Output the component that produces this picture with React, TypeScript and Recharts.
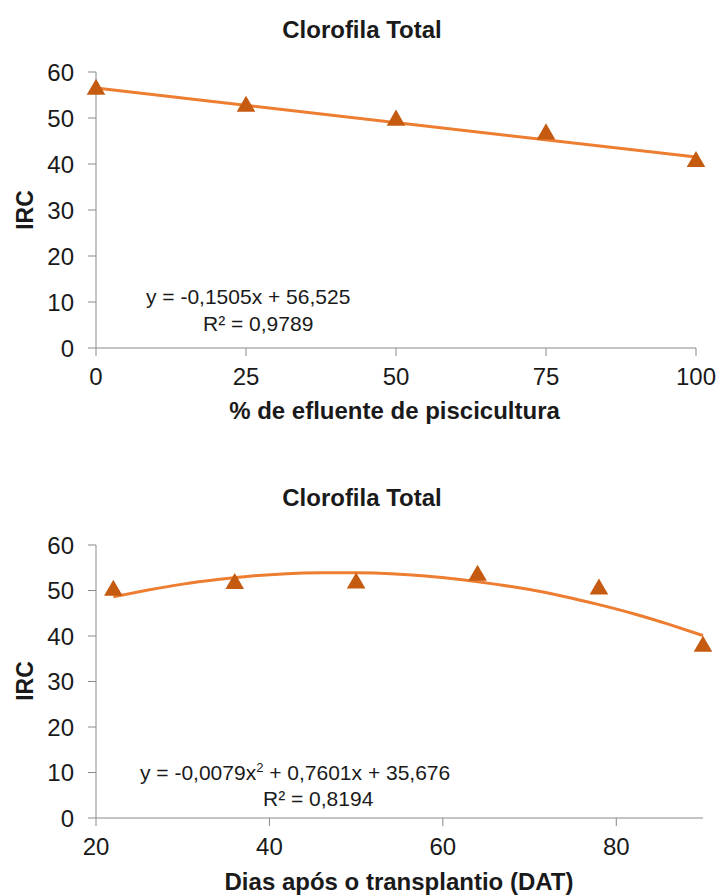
import React from "react";
import { ComposedChart, Line, Scatter, XAxis, YAxis, ZAxis } from "recharts";

// Top panel: % effluent vs IRC
const effluentX = [0, 25, 50, 75, 100];
const effluentIRC = [56.2, 52.5, 49.5, 46.5, 40.5];
const effluentTrendX = [0, 100];
const effluentTrendY = [56.5, 41.5];
const effluentTicks = [0, 25, 50, 75, 100];

// Bottom panel: days after transplant vs IRC
const datX = [22, 36, 50, 64, 78, 90];
const datIRC = [50.0, 51.5, 51.6, 53.3, 50.3, 37.7];
const datTrendX = [22, 26, 30, 34, 38, 42, 46, 50, 54, 58, 62, 66, 70, 74, 78, 82, 86, 90];
const datTrendY = [48.6, 50.1, 51.4, 52.4, 53.2, 53.7, 53.9, 53.9, 53.7, 53.2, 52.4, 51.4, 50.2, 48.7, 46.9, 44.9, 42.6, 40.1];
const datTicks = [20, 40, 60, 80];

const yTicks = [0, 10, 20, 30, 40, 50, 60];

const FONT = "'Liberation Sans', Arial, sans-serif";
const AXIS = "#898989";
const LINE = "#ED7D31";
const MARK = "#C55A11";
const TEXT = "#1a1a1a";

const tickStyle = { fill: TEXT, fontSize: 24, fontFamily: FONT };

const zip = (xs: number[], ys: number[]) => xs.map((x, i) => ({ x, y: ys[i] }));

interface PanelProps {
  top: number;
  height: number;
  margin: { top: number; right: number; bottom: number; left: number };
  points: { x: number; y: number }[];
  trend: { x: number; y: number }[];
  xDomain: [number, number];
  xTicks: number[];
  curve: "linear" | "natural";
}

function Panel({ top, height, margin, points, trend, xDomain, xTicks, curve }: PanelProps) {
  return (
    <div style={{ position: "absolute", left: 0, top }}>
      <ComposedChart width={717} height={height} margin={margin}>
        <XAxis
          type="number"
          dataKey="x"
          domain={xDomain}
          ticks={xTicks}
          tick={tickStyle}
          tickSize={8}
          tickMargin={12}
          stroke={AXIS}
          height={40}
        />
        <YAxis
          type="number"
          dataKey="y"
          domain={[0, 60]}
          ticks={yTicks}
          tick={tickStyle}
          tickSize={8}
          tickMargin={14}
          stroke={AXIS}
          width={96}
        />
        <ZAxis range={[150, 150]} />
        <Line
          data={trend}
          dataKey="y"
          type={curve}
          stroke={LINE}
          strokeWidth={3}
          dot={false}
          activeDot={false}
          isAnimationActive={false}
        />
        <Scatter
          data={points}
          dataKey="y"
          shape="triangle"
          fill={MARK}
          isAnimationActive={false}
        />
      </ComposedChart>
    </div>
  );
}

const abs = (left: number, top: number, extra: React.CSSProperties = {}): React.CSSProperties => ({
  position: "absolute",
  left,
  top,
  fontFamily: FONT,
  color: TEXT,
  whiteSpace: "nowrap",
  lineHeight: 1,
  ...extra,
});

export default function App() {
  return (
    <div style={{ position: "absolute", left: 0, top: 0, width: 717, height: 895, background: "#fff", overflow: "hidden" }}>
      <Panel
        top={0}
        height={447}
        margin={{ top: 72, right: 21, bottom: 59, left: 0 }}
        points={zip(effluentX, effluentIRC)}
        trend={zip(effluentTrendX, effluentTrendY)}
        xDomain={[0, 100]}
        xTicks={effluentTicks}
        curve="linear"
      />
      <Panel
        top={447}
        height={448}
        margin={{ top: 98, right: 14, bottom: 37, left: 0 }}
        points={zip(datX, datIRC)}
        trend={zip(datTrendX, datTrendY)}
        xDomain={[20, 90]}
        xTicks={datTicks}
        curve="natural"
      />

      {/* titles */}
      <div style={abs(0, 18, { width: 724, textAlign: "center", fontSize: 24, fontWeight: 700 })}>Clorofila Total</div>
      <div style={abs(0, 486, { width: 724, textAlign: "center", fontSize: 24, fontWeight: 700 })}>Clorofila Total</div>

      {/* y-axis titles */}
      <div style={abs(25, 210, { fontSize: 23, fontWeight: 700, transform: "translate(-50%, -50%) rotate(-90deg)" })}>IRC</div>
      <div style={abs(25, 681, { fontSize: 23, fontWeight: 700, transform: "translate(-50%, -50%) rotate(-90deg)" })}>IRC</div>

      {/* x-axis titles */}
      <div style={abs(0, 399, { width: 789, textAlign: "center", fontSize: 24, fontWeight: 700 })}>% de efluente de piscicultura</div>
      <div style={abs(0, 870, { width: 798, textAlign: "center", fontSize: 24, fontWeight: 700 })}>Dias após o transplantio (DAT)</div>

      {/* trendline equations */}
      <div style={abs(146, 286, { fontSize: 21 })}>y = -0,1505x + 56,525</div>
      <div style={abs(203, 313, { fontSize: 21 })}>R² = 0,9789</div>
      <div style={abs(140, 761, { fontSize: 21 })}>
        y = -0,0079x<sup style={{ fontSize: 13 }}>2</sup> + 0,7601x + 35,676
      </div>
      <div style={abs(263, 788, { fontSize: 21 })}>R² = 0,8194</div>
    </div>
  );
}
